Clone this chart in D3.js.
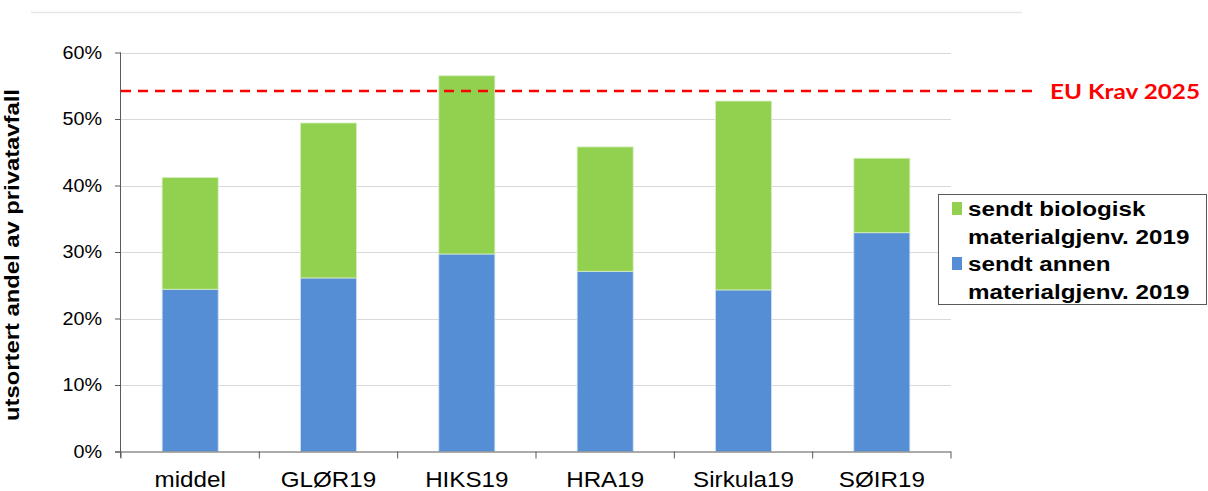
<!DOCTYPE html>
<html><head><meta charset="utf-8">
<script src="https://cdn.jsdelivr.net/npm/d3@7"></script>
<style>body{margin:0;background:#fff}</style>
</head><body>
<svg id="c" width="1208" height="491"></svg>
<script>
const categories = ["middel","GLØR19","HIKS19","HRA19","Sirkula19","SØIR19"];
const annenValues = [24.4, 26.1, 29.7, 27.1, 24.3, 32.9];
const bioValues   = [16.8, 23.3, 26.8, 18.7, 28.4, 11.2];
const yTicks = [0,10,20,30,40,50,60];
const euTarget = 54.2;
const euLabel = "EU Krav 2025";
const yLabel = "utsortert andel av privatavfall";
const colors = {bio:"#92d050", annen:"#558ed5"};

const FONT = "Liberation Sans, Arial, sans-serif";
function stretch(sel, f){
  sel.each(function(){
    const len = this.getComputedTextLength();
    d3.select(this).attr("textLength", len*f).attr("lengthAdjust","spacingAndGlyphs");
  });
}

const svg = d3.select("#c");
const x0 = 121, x1 = 951, yTop = 52.5, yBot = 451.5;
const x = d3.scaleBand().domain(categories).range([x0,x1]).paddingInner(0.595).paddingOuter(0.2975);
const y = d3.scaleLinear().domain([0,60]).range([yBot,yTop]);

// top decorative line
svg.append("line").attr("x1",31).attr("x2",1022).attr("y1",12.5).attr("y2",12.5)
  .attr("stroke","#e6e6e6").attr("stroke-width",1.5);

// gridlines
svg.append("g").selectAll("line").data(yTicks.filter(d=>d>0)).join("line")
  .attr("x1",x0).attr("x2",x1).attr("y1",d=>Math.round(y(d))+0.5).attr("y2",d=>Math.round(y(d))+0.5)
  .attr("stroke","#d9d9d9").attr("stroke-width",1);

// bars
const data = categories.map((c,i)=>({c, a:annenValues[i], b:bioValues[i]}));
const g = svg.append("g");
g.selectAll("rect.a").data(data).join("rect").attr("class","a")
  .attr("x",d=>x(d.c)).attr("width",x.bandwidth())
  .attr("y",d=>y(d.a)).attr("height",d=>y(0)-y(d.a))
  .attr("fill",colors.annen).attr("stroke","#cfe0f3").attr("stroke-width",0.8);
g.selectAll("rect.b").data(data).join("rect").attr("class","b")
  .attr("x",d=>x(d.c)).attr("width",x.bandwidth())
  .attr("y",d=>y(d.a+d.b)).attr("height",d=>y(d.a)-y(d.a+d.b))
  .attr("fill",colors.bio).attr("stroke","#d6efbf").attr("stroke-width",0.8);

// y axis
const yAxis = d3.axisLeft(y).tickValues(yTicks).tickFormat(d=>d+"%").tickSize(6).tickPadding(13);
const ya = svg.append("g").attr("transform",`translate(${x0},0)`).call(yAxis);
ya.select(".domain").attr("stroke","#595959").attr("d",`M-0.5,${yTop}V${yBot+6}`);
ya.selectAll(".tick line").attr("stroke","#595959");
ya.selectAll("text").attr("font-family",FONT).attr("font-size",17.5).attr("fill","#000");
stretch(ya.selectAll("text"), 1.13);

// x axis
const xAxis = d3.axisBottom(x).tickSize(0).tickPadding(0);
const xa = svg.append("g").attr("transform",`translate(0,${yBot})`).call(xAxis);
xa.select(".domain").attr("stroke","#595959").attr("d",`M${x0-6},0.5H${x1}`);
xa.selectAll("text").attr("font-family",FONT).attr("font-size",22)
  .attr("fill","#000").attr("dy",null).attr("y",35.5);
stretch(xa.selectAll("text"), 1.1);
// category boundary ticks
const bounds = categories.map(c=>x(c)-x.step()*x.paddingInner()/2).concat([x1]);
bounds[0] = x0;
xa.append("g").selectAll("line").data(bounds).join("line")
  .attr("x1",d=>d).attr("x2",d=>d).attr("y1",0).attr("y2",7).attr("stroke","#595959");

// y label
const yl = svg.append("text").attr("transform",`translate(19,${(yTop+yBot)/2+3}) rotate(-90)`)
  .attr("text-anchor","middle").attr("font-family",FONT)
  .attr("font-weight","bold").attr("font-size",19.5).text(yLabel);
stretch(yl, 1.22);

// EU line
svg.append("line").attr("x1",x0).attr("x2",1035).attr("y1",y(euTarget)).attr("y2",y(euTarget))
  .attr("stroke","#ff0000").attr("stroke-width",2.5).attr("stroke-dasharray","10,7");
svg.append("text").attr("x",1050).attr("y",y(euTarget)+7.5).attr("fill","#ff0000")
  .attr("font-family","Lato, Open Sans, sans-serif").attr("font-weight",700).attr("font-size",20.5)
  .attr("textLength",150).attr("lengthAdjust","spacingAndGlyphs")
  .text(euLabel);

// legend
const lg = svg.append("g");
lg.append("rect").attr("x",938.5).attr("y",194.5).attr("width",268).attr("height",110)
  .attr("fill","#fff").attr("stroke","#595959").attr("stroke-width",1);
const legendItems = [
  {lines:["sendt biologisk","materialgjenv. 2019"], color:colors.bio, y:216},
  {lines:["sendt annen","materialgjenv. 2019"], color:colors.annen, y:271}
];
legendItems.forEach(it=>{
  lg.append("rect").attr("x",952).attr("y",it.y-14).attr("width",10).attr("height",13).attr("fill",it.color);
  it.lines.forEach((l,i)=>{
    const t = lg.append("text").attr("font-family",FONT)
      .attr("font-weight","bold").attr("font-size",19.5).attr("fill","#000")
      .attr("x",968).attr("y",it.y+i*27.5).text(l);
    stretch(t, 1.24);
  });
});
</script>
</body></html>
